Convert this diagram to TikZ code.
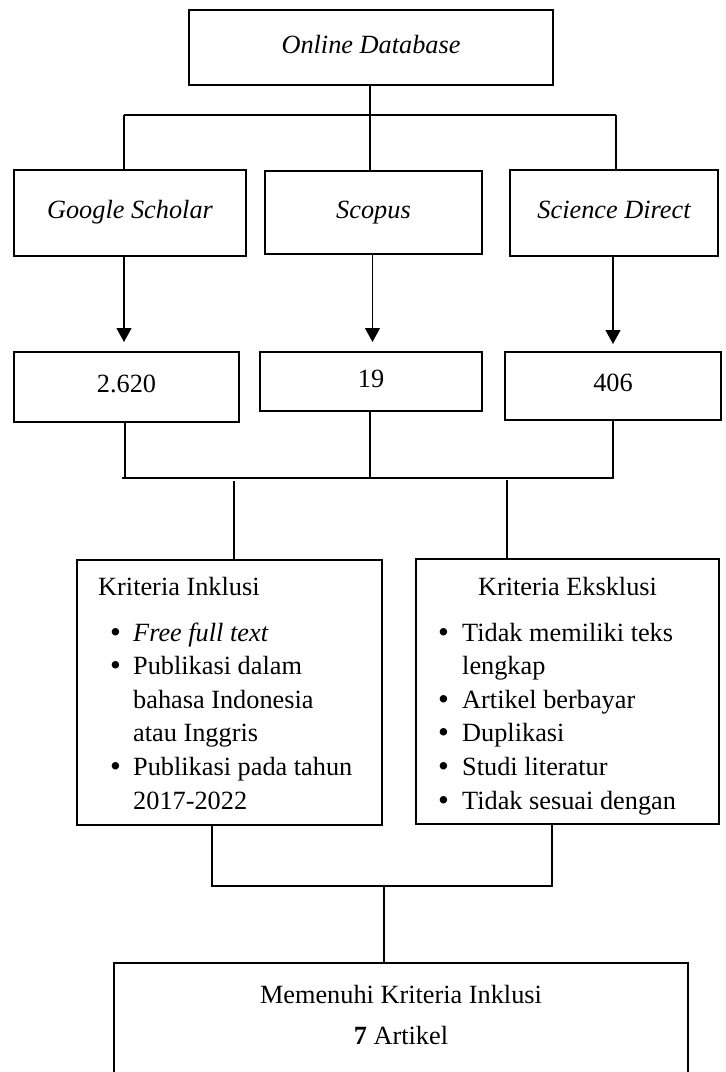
\documentclass[tikz,border=0pt]{standalone}
\usepackage{fontspec}
\setmainfont{Liberation Serif}
\usetikzlibrary{arrows.meta}
\begin{document}
\begin{tikzpicture}[x=1pt,y=-1pt,
  every node/.append style={font=\fontsize{26.3}{34}\selectfont},
  box/.style={draw=black, line width=2pt, inner sep=0pt, text height=18.4pt, text depth=6.6pt, align=center},
  conn/.style={draw=black, line width=1.1pt},
  arr/.style={conn, -{Triangle[width=15pt,length=14pt]}},
  txtl/.style={inner sep=0pt, anchor=base west},
  txtc/.style={inner sep=0pt, anchor=base},
  bul/.style={inner sep=0pt, anchor=base, font=\fontsize{31}{31}\selectfont}]
\useasboundingbox (0,0) rectangle (726,1072);

% boxes
\node[box, minimum width=364pt, minimum height=75pt] (top) at (371,47.5) {\itshape Online Database};
\node[box, minimum width=232pt, minimum height=86pt] (g) at (130,213) {\itshape Google Scholar};
\node[box, minimum width=217pt, minimum height=83pt] (sc) at (373.5,212.5) {\itshape Scopus};
\node[box, minimum width=208pt, minimum height=86pt] (sd) at (614,213) {\itshape Science Direct};
\node[box, minimum width=225pt, minimum height=70pt] (n1) at (126.5,387) {2.620};
\node[box, minimum width=222pt, minimum height=59pt] (n2) at (371,381.5) {19};
\node[box, minimum width=216pt, minimum height=68pt] (n3) at (613,386) {406};
\node[box, minimum width=305pt, minimum height=265pt] (inkl) at (229.5,692.5) {};
\node[box, minimum width=303pt, minimum height=265pt] (eksk) at (567.5,691.5) {};
\node[box, minimum width=574pt, minimum height=122pt] (fin) at (401,1024) {};

% inclusion text
\node[txtl] (ih) at (98,595) {Kriteria Inklusi};
\node[bul] (ib1) at (115.5,641) {\raisebox{-1pt}{\textbullet}};
\node[txtl] (i1) at (133,641) {\itshape Free full text};
\node[bul] (ib2) at (115.5,674.6) {\raisebox{-1pt}{\textbullet}};
\node[txtl] (i2) at (133,674.6) {Publikasi dalam};
\node[txtl] (i3) at (133,708.2) {bahasa Indonesia};
\node[txtl] (i4) at (133,741.8) {atau Inggris};
\node[bul] (ib5) at (115.5,775.4) {\raisebox{-1pt}{\textbullet}};
\node[txtl] (i5) at (133,775.4) {Publikasi pada tahun};
\node[txtl] (i6) at (133,809) {2017-2022};

% exclusion text
\node[txtc] (eh) at (567.5,595) {Kriteria Eksklusi};
\node[bul] (eb1) at (443.5,641) {\raisebox{-1pt}{\textbullet}};
\node[txtl] (e1) at (462,641) {Tidak memiliki teks};
\node[txtl] (e2) at (462,674.6) {lengkap};
\node[bul] (eb3) at (443.5,708.2) {\raisebox{-1pt}{\textbullet}};
\node[txtl] (e3) at (462,708.2) {Artikel berbayar};
\node[bul] (eb4) at (443.5,741.8) {\raisebox{-1pt}{\textbullet}};
\node[txtl] (e4) at (462,741.8) {Duplikasi};
\node[bul] (eb5) at (443.5,775.4) {\raisebox{-1pt}{\textbullet}};
\node[txtl] (e5) at (462,775.4) {Studi literatur};
\node[bul] (eb6) at (443.5,809) {\raisebox{-1pt}{\textbullet}};
\node[txtl] (e6) at (462,809) {Tidak sesuai dengan};

% final text
\node[txtc] (f1) at (401,1003) {Memenuhi Kriteria Inklusi};
\node[txtc] (f2) at (401,1044.5) {\textbf{7} Artikel};

% connectors: top level
\coordinate (h1l) at (124,115);
\coordinate (h1r) at (616,115);
\draw[conn] (h1l) -- (h1r);
\draw[conn] (h1l) -- (h1l |- g.north);
\draw[conn] (h1r) -- (h1r |- sd.north);
\draw[conn] ([xshift=-1pt]top.south) -- ([xshift=-1pt]top.south |- sc.north);

% arrows
\draw[arr, shorten >=9pt] ([xshift=-6pt]g.south) -- ([xshift=-6pt]g.south |- n1.north);
\draw[arr, shorten >=9pt] ([xshift=-1pt]sc.south) -- ([xshift=-1pt]sc.south |- n2.north);
\draw[arr, shorten >=7pt] ([xshift=-1pt]sd.south) -- ([xshift=-1pt]sd.south |- n3.north);

% junction below numbers
\coordinate (j2l) at (122,478);
\coordinate (j2r) at (614,478);
\draw[conn] (j2l) -- (j2r);
\draw[conn] ([xshift=-1.5pt]n1.south) -- ([xshift=-1.5pt]n1.south |- j2l);
\draw[conn] ([xshift=-1pt]n2.south) -- ([xshift=-1pt]n2.south |- j2l);
\draw[conn] (n3.south) -- (n3.south |- j2l);

% to criteria boxes
\coordinate (c1) at (234,481);
\coordinate (c2) at (507,480);
\draw[conn] (c1) -- (c1 |- inkl.north);
\draw[conn] (c2) -- (c2 |- eksk.north);

% bottom junction
\coordinate (j3l) at (212,886);
\coordinate (j3r) at (552,886);
\coordinate (j3m) at (384,886);
\draw[conn] (j3l |- inkl.south) -- (j3l) -- (j3r) -- (j3r |- eksk.south);
\draw[conn] (j3m) -- (j3m |- fin.north);
\end{tikzpicture}
\end{document}
